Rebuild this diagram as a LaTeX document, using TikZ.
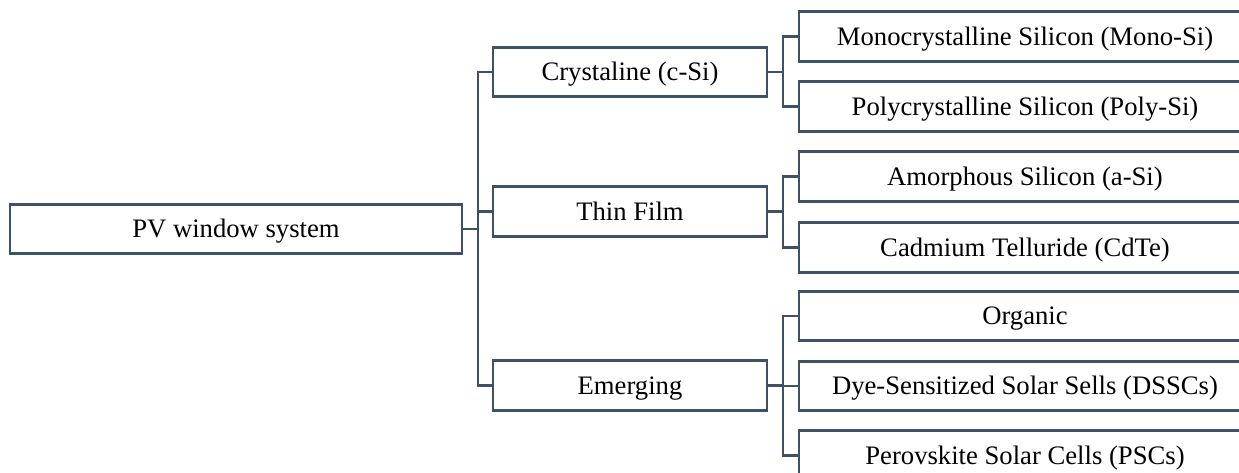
\documentclass[tikz,border=0pt]{standalone}
\usepackage{fontspec}
\setmainfont{Liberation Serif}
\definecolor{linecol}{HTML}{3E5168}
\tikzset{
  box/.style={draw=linecol, line width=2.2pt, fill=white, rectangle,
    minimum height=36.9pt, inner sep=0pt, text=black,
    text height=13.2pt, text depth=0pt,
    font=\fontsize{20pt}{24pt}\selectfont},
  rootbox/.style={box, minimum width=339pt},
  midbox/.style={box, minimum width=205.5pt},
  leafbox/.style={box, minimum width=339pt},
  link/.style={draw=linecol, line width=2.2pt}
}
\begin{document}
\begin{tikzpicture}[x=0.75pt, y=-0.75pt]
\useasboundingbox (0,0) rectangle (1239,472);
\clip (0,0) rectangle (1239,472);
\fill[white] (0,0) rectangle (1239,472);

% bus lines
\coordinate (busA) at (478,0);
\coordinate (busB) at (783,0);

% root
\node[rootbox] (root) at (236,229) {PV window system};

% categories
\node[midbox] (crys) at (630,72) {Crystaline (c-Si)};
\node[midbox] (thin) at (630,211.5) {Thin Film};
\node[midbox] (emer) at (630,385.5) {Emerging};

% technologies
\node[leafbox] (mono) at (1025,36.5) {Monocrystalline Silicon (Mono-Si)};
\node[leafbox] (poly) at (1025,106.5) {Polycrystalline Silicon (Poly-Si)};
\node[leafbox] (amor) at (1025,176.5) {Amorphous Silicon (a-Si)};
\node[leafbox] (cdte) at (1025,247.5) {Cadmium Telluride (CdTe)};
\node[leafbox] (orga) at (1025,316) {Organic};
\node[leafbox] (dssc) at (1025,386) {Dye-Sensitized Solar Sells (DSSCs)};
\node[leafbox] (psc) at (1025,455.5) {Perovskite Solar Cells (PSCs)};

% root to categories
\draw[link] (root.east) -- (root.east -| busA);
\draw[link] (crys.west) -- (crys.west -| busA) |- (emer.west);
\draw[link] (thin.west) -- (thin.west -| busA);

% crystalline branch
\draw[link] (crys.east) -- (crys.east -| busB);
\draw[link] (mono.west) -- (mono.west -| busB) |- (poly.west);

% thin film branch
\draw[link] (thin.east) -- (thin.east -| busB);
\draw[link] (amor.west) -- (amor.west -| busB) |- (cdte.west);

% emerging branch
\draw[link] (emer.east) -- (emer.east -| busB);
\draw[link] (orga.west) -- (orga.west -| busB) |- (psc.west);
\draw[link] (dssc.west) -- (dssc.west -| busB);
\end{tikzpicture}
\end{document}
